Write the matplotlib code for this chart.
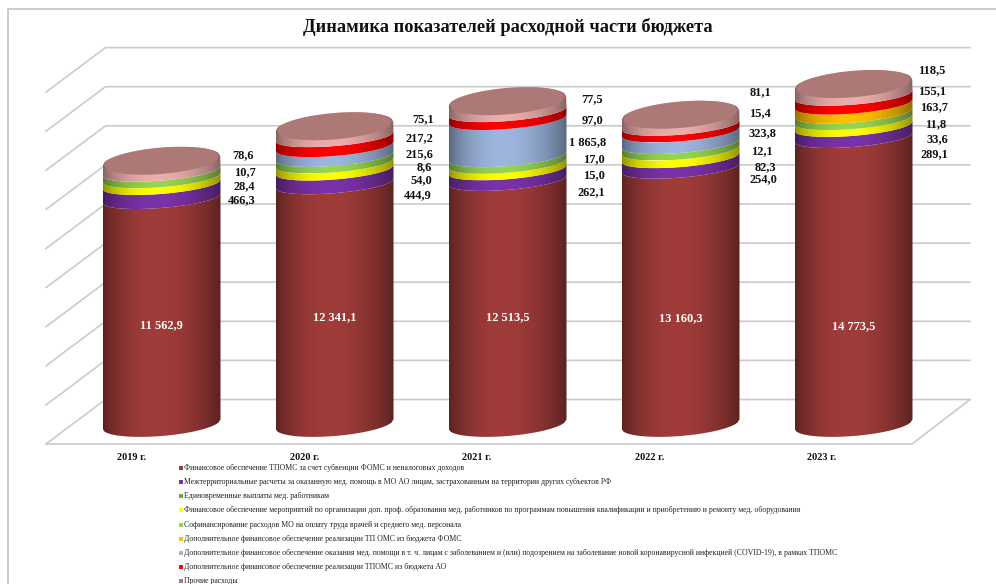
import numpy as np
import matplotlib
matplotlib.use("Agg")
import matplotlib.pyplot as plt
from matplotlib.patches import Polygon, Rectangle

plt.rcParams['font.family'] = ['Liberation Serif', 'DejaVu Serif']

years = ["2019 г.", "2020 г.", "2021 г.", "2022 г.", "2023 г."]

# values per year, as printed on the chart
main_fin = [11562.9, 12341.1, 12513.5, 13160.3, 14773.5]
interterr = [466.3, 444.9, 262.1, 254.0, 289.1]
one_time = [0, 0, 0, 0, 0]
training = [28.4, 54.0, 15.0, 82.3, 33.6]
cofin = [10.7, 8.6, 17.0, 12.1, 11.8]
extra_foms = [0, 0, 0, 0, 163.7]
covid = [0, 215.6, 1865.8, 323.8, 0]
extra_ao = [0, 217.2, 97.0, 15.4, 155.1]
other = [78.6, 75.1, 77.5, 81.1, 118.5]

series = [main_fin, interterr, one_time, training, cofin, extra_foms, covid, extra_ao, other]
colors = ["#a03c3a", "#7a32a8", "#7f9f4a", "#ffff00", "#96d550", "#ffc000", "#9db6de", "#ff0000", "#ad7977"]
legend_labels = [
    "Финансовое обеспечение ТПОМС за счет субвенции ФОМС и неналоговых доходов",
    "Межтерриториальные расчеты за оказанную мед. помощь в МО АО лицам, застрахованным на территории других субъектов РФ",
    "Единовременные выплаты мед. работникам",
    "Финансовое обеспечение мероприятий по организации доп. проф. образования мед. работников по программам повышения квалификации и приобретению и ремонту мед. оборудования",
    "Софинансирование расходов МО на оплату труда врачей и среднего мед. персонала",
    "Дополнительное финансовое обеспечение реализации ТП ОМС из бюджета ФОМС",
    "Дополнительное финансовое обеспечение оказания мед. помощи в т. ч. лицам с заболеванием и (или) подозрением на заболевание новой коронавирусной инфекцией (COVID-19), в рамках ТПОМС",
    "Дополнительное финансовое обеспечение реализации ТПОМС из бюджета АО",
    "Прочие расходы",
]

# label anchors in pixels (right edge, y), bottom band first
label_right = [
    [256, 255, 256, 254],
    [431.5, 432, 432, 433, 433, 434],
    [605.7, 605, 605, 605.7, 603, 603],
    [777, 776, 773, 776, 771, 771],
    [948, 948, 946, 948, 946, 945],
]
label_y = [
    [200, 186, 172.5, 155],
    [195.5, 180.5, 167.5, 153.7, 138, 118.7],
    [192, 175, 159, 142, 120, 99.3],
    [179, 166.7, 151, 133, 112.7, 92],
    [154, 139, 124, 106.7, 90.7, 70],
]
main_label_y = [325, 317, 317, 318, 326]
year_label_x = [132, 305, 477, 650, 822]

W, H = 996, 584
PX_PER_UNIT = 0.019    # front plane scale
BEVEL = 6.0 / PX_PER_UNIT   # main segment bevel height
BAND_BEVEL = 6.3 / PX_PER_UNIT
BAND_GAIN = 0.87       # upper bands come out a bit shorter than the main one
BASE_PX = 424
X0, DX = 161.5, 173
HALF = 59 / DX        # half cylinder width in category units
SHEAR = 4.7 / PX_PER_UNIT  # end-to-end tilt of the ellipses
B_BAND = 9.6 / PX_PER_UNIT
B_FACE = 13.2 / PX_PER_UNIT

fig = plt.figure(figsize=(W / 100, H / 100), dpi=100)

# pixel layer for the frame and the 3d walls
bg = fig.add_axes([0, 0, 1, 1])
bg.set_xlim(0, W)
bg.set_ylim(H, 0)
bg.axis("off")
bg.plot([7.5, 7.5, W], [H, 8.5, 8.5], color="#c8c8c8", lw=1.3)
grid_c = "#cacaca"
for i in range(10):
    y = 399.5 - i * 39.1
    bg.plot([46, 105.5, 970], [y + 44.5, y, y], color=grid_c, lw=1.2)
bg.plot([46, 912, 970], [444, 444, 399.5], color=grid_c, lw=1.2)

# value layer: x = category number, y = value
ax = fig.add_axes([0, 0, 1, 1])
ax.patch.set_alpha(0)
ax.axis("off")


def shade(rgb, n=160):
    t = np.linspace(0, 1, n)
    f = 0.56 + 0.44 * np.sin(np.pi * t ** 0.9) ** 0.8
    return np.clip(np.outer(f, rgb), 0, 1)[None, :, :]


def lower_arc(c, v, b, half=HALF, n=60):
    t = np.linspace(-1, 1, n)
    return c + t * half, v + t * SHEAR - b * np.sqrt(1 - t ** 2)


def upper_arc(c, v, b, half=HALF, n=60):
    t = np.linspace(1, -1, n)
    return c + t * half, v + t * SHEAR + b * np.sqrt(1 - t ** 2)


def gradient_patch(c, xs, ys, color, z):
    rgb = np.array(matplotlib.colors.to_rgb(color))
    im = ax.imshow(shade(rgb), extent=[c - HALF, c + HALF, ys.min(), ys.max()],
                   aspect="auto", zorder=z, interpolation="bilinear")
    p = Polygon(np.column_stack([xs, ys]), closed=True, transform=ax.transData,
                fc="none", ec="none")
    ax.add_patch(p)
    im.set_clip_path(p)


for i in range(len(years)):
    level = 0
    for s, vals in enumerate(series):
        v = vals[i]
        if v == 0:
            continue
        top = level + v + BEVEL if s == 0 else level + v * BAND_GAIN + BAND_BEVEL
        lx, ly = lower_arc(i, level, 12 / PX_PER_UNIT if s == 0 else B_BAND)
        if s == len(series) - 1:
            # cap: pale rim with the flat face on top
            face = top + 2.7 / PX_PER_UNIT
            ux, uy = upper_arc(i, face, B_FACE, HALF * 0.995)
            gradient_patch(i, np.r_[lx, ux], np.r_[ly, uy], "#ecaeac", 3 + s)
            fx1, fy1 = lower_arc(i, face, B_FACE, HALF * 0.97)
            fx2, fy2 = upper_arc(i, face, B_FACE, HALF * 0.97)
            ax.fill(np.r_[fx1, fx2], np.r_[fy1, fy2], color=colors[s], zorder=4 + s, lw=0)
        else:
            ux, uy = lower_arc(i, top, B_BAND)
            gradient_patch(i, np.r_[lx, ux[::-1]], np.r_[ly, uy[::-1]], colors[s], 3 + s)
        level = top

ax.set_xlim((0 - X0) / DX, (W - X0) / DX)
ax.set_ylim((BASE_PX - H) / PX_PER_UNIT, BASE_PX / PX_PER_UNIT)


def fmt(v):
    whole, frac = f"{v:.1f}".split(".")
    if len(whole) > 3:
        whole = whole[:-3] + " " + whole[-3:]
    return whole + "," + frac


# labels are placed in pixels, on top of everything
top_ax = fig.add_axes([0, 0, 1, 1])
top_ax.set_xlim(0, W)
top_ax.set_ylim(H, 0)
top_ax.axis("off")

for i, year in enumerate(years):
    top_ax.text(X0 + DX * i, main_label_y[i], fmt(main_fin[i]), color="white", fontweight="bold",
                fontsize=8.9, ha="center", va="center")
    top_ax.text(year_label_x[i], 457.5, year, fontweight="bold", fontsize=7.4, ha="center",
                va="center", color="#111111")
    small = [vals[i] for vals in series[1:] if vals[i] != 0]
    for v, x, y in zip(small, label_right[i], label_y[i]):
        top_ax.text(x, y, fmt(v), fontweight="bold", fontsize=8.9, ha="right",
                    va="center", color="#111111")

top_ax.text(508, 27, "Динамика показателей расходной части бюджета", fontweight="bold",
            fontsize=13.2, ha="center", va="center", color="#111111")

for k, label in enumerate(legend_labels):
    y = 468 + k * 14.15
    top_ax.add_patch(Rectangle((179, y - 2), 4, 4, fc=colors[k], ec="none"))
    top_ax.text(184, y, label, fontsize=5.55, ha="left", va="center", color="#222222")

fig.savefig("out.png", dpi=100)
